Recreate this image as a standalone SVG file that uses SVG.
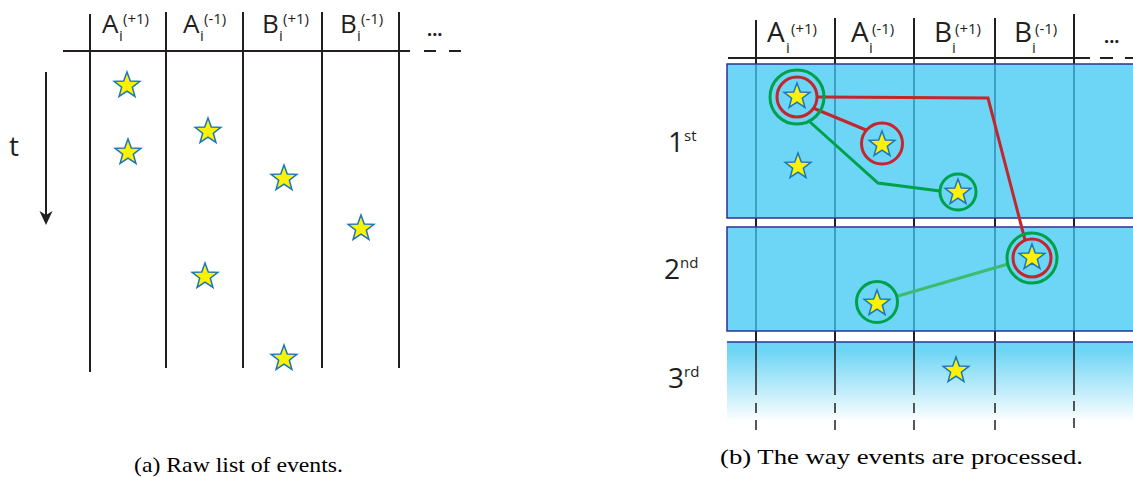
<svg xmlns="http://www.w3.org/2000/svg" width="1133" height="477" viewBox="0 0 1133 477">
<style>
.hd{font-family:"Open Sans","Liberation Sans",sans-serif;fill:#231f20}
.big{font-size:26px}
.sm{font-size:15px}
.cap{font-family:"Liberation Serif",serif;font-size:21px;fill:#000}
.blk{stroke:#231f20;stroke-width:2;fill:none}
.teal{stroke:#1f7c9c;stroke-width:1.2;fill:none}
.band{fill:#6dd5f5;stroke:#2e3192;stroke-width:1.5}
.red{stroke:#c1272d;stroke-width:3;fill:none}
.grn{stroke:#00a14b;stroke-width:3;fill:none}
.grn2{stroke:#3dbb6e;stroke-width:3;fill:none}
.st{fill:#fff200;stroke:#1b75bc;stroke-width:1.5}
</style>
<defs>
<path id="star" d="M0,-13.5 L3.29,-4.53 L12.84,-4.17 L5.33,1.73 L7.94,10.92 L0,5.6 L-7.94,10.92 L-5.33,1.73 L-12.84,-4.17 L-3.29,-4.53 Z"/>
<linearGradient id="fade" x1="0" y1="0" x2="0" y2="1">
<stop offset="0" stop-color="#6dd5f5"/>
<stop offset="0.1" stop-color="#6dd5f5"/>
<stop offset="1" stop-color="#ffffff"/>
</linearGradient>
<linearGradient id="fadeS" x1="0" y1="0" x2="0" y2="1">
<stop offset="0" stop-color="#2e3192"/>
<stop offset="1" stop-color="#2e3192" stop-opacity="0"/>
</linearGradient>
</defs>

<!-- LEFT PANEL -->
<g id="left-grid">
<line class="blk" x1="63" y1="51" x2="410" y2="51"/>
<line class="blk" x1="424" y1="51" x2="436" y2="51"/>
<line class="blk" x1="449" y1="51" x2="461" y2="51"/>
<line class="blk" x1="90" y1="14" x2="90" y2="372"/>
<line class="blk" x1="166" y1="12" x2="166" y2="368"/>
<line class="blk" x1="243" y1="12" x2="243" y2="368"/>
<line class="blk" x1="322" y1="12" x2="322" y2="368"/>
<line class="blk" x1="399" y1="12" x2="399" y2="368"/>
</g>
<g id="left-headers" class="hd">
<text class="big" x="102" y="33">A</text><text class="sm" x="119" y="41">i</text><text class="sm" x="123" y="24">(+1)</text>
<text class="big" x="183" y="33">A</text><text class="sm" x="200" y="41">i</text><text class="sm" x="204" y="24">(-1)</text>
<text class="big" x="262" y="33">B</text><text class="sm" x="279" y="41">i</text><text class="sm" x="283" y="24">(+1)</text>
<text class="big" x="340" y="33">B</text><text class="sm" x="357" y="41">i</text><text class="sm" x="361" y="24">(-1)</text>
<text x="427" y="36" style="font-size:18px;font-weight:bold">...</text>
</g>
<g id="time-axis">
<text class="hd" x="9" y="156" style="font-size:28px">t</text>
<line x1="46" y1="72" x2="46" y2="216" stroke="#231f20" stroke-width="2"/>
<polygon points="39.5,211 46,215 52.5,211 46,225" fill="#231f20"/>
</g>
<g id="left-stars" class="st">
<use href="#star" x="127" y="85.5"/>
<use href="#star" x="208" y="131.5"/>
<use href="#star" x="128" y="152.5"/>
<use href="#star" x="284" y="178.5"/>
<use href="#star" x="361" y="228.5"/>
<use href="#star" x="205" y="276.5"/>
<use href="#star" x="284" y="358.5"/>
</g>

<!-- RIGHT PANEL -->
<g id="right-grid">
<line class="blk" x1="728" y1="58" x2="1090" y2="58"/>
<line class="blk" x1="1100" y1="58" x2="1113" y2="58"/>
<line class="blk" x1="1125" y1="58" x2="1133" y2="58"/>
<g class="blk">
<line x1="756" y1="20" x2="756" y2="395"/>
<line x1="835" y1="18" x2="835" y2="395"/>
<line x1="914" y1="18" x2="914" y2="395"/>
<line x1="995" y1="18" x2="995" y2="395"/>
<line x1="1074" y1="14" x2="1074" y2="395"/>
</g>
</g>
<g id="band1">
<rect class="band" x="727" y="64" width="410" height="154"/>
</g>
<g id="band2">
<rect class="band" x="727" y="227" width="410" height="104"/>
</g>
<g id="band3">
<rect x="727" y="342" width="410" height="80" fill="url(#fade)"/>
<line x1="727" y1="342" x2="1133" y2="342" stroke="#2e3192" stroke-width="1.5"/>
<line x1="727" y1="342" x2="727" y2="400" stroke="url(#fadeS)" stroke-width="1.5"/>
<g stroke="#231f20" stroke-width="1.5">
<line x1="756" y1="343" x2="756" y2="395"/>
<line x1="835" y1="343" x2="835" y2="395"/>
<line x1="914" y1="343" x2="914" y2="395"/>
<line x1="995" y1="343" x2="995" y2="395"/>
<line x1="1074" y1="343" x2="1074" y2="395"/>
</g>
<g stroke="#231f20" stroke-width="1.5" stroke-dasharray="10 7">
<line x1="756" y1="403" x2="756" y2="430"/>
<line x1="835" y1="403" x2="835" y2="430"/>
<line x1="914" y1="403" x2="914" y2="430"/>
<line x1="995" y1="403" x2="995" y2="430"/>
<line x1="1074" y1="401" x2="1074" y2="430"/>
</g>
</g>
<g id="band-lines" class="teal">
<line x1="756" y1="65" x2="756" y2="217"/><line x1="835" y1="65" x2="835" y2="217"/><line x1="914" y1="65" x2="914" y2="217"/><line x1="995" y1="65" x2="995" y2="217"/><line x1="1074" y1="65" x2="1074" y2="217"/>
<line x1="756" y1="228" x2="756" y2="330"/><line x1="835" y1="228" x2="835" y2="330"/><line x1="914" y1="228" x2="914" y2="330"/><line x1="995" y1="228" x2="995" y2="330"/><line x1="1074" y1="228" x2="1074" y2="330"/>
</g>
<g id="right-headers" class="hd">
<text x="767" y="42" style="font-size:28px">A</text><text class="sm" x="786" y="53">i</text><text class="sm" x="791" y="34">(+1)</text>
<text x="851" y="42" style="font-size:28px">A</text><text class="sm" x="869" y="53">i</text><text class="sm" x="872" y="34">(-1)</text>
<text x="934" y="42" style="font-size:28px">B</text><text class="sm" x="952" y="53">i</text><text class="sm" x="955" y="34">(+1)</text>
<text x="1014" y="42" style="font-size:28px">B</text><text class="sm" x="1032" y="53">i</text><text class="sm" x="1035" y="34">(-1)</text>
<text x="1104" y="43" style="font-size:18px;font-weight:bold">...</text>
</g>
<g id="row-labels" class="hd">
<text x="668" y="152" style="font-size:28px">1<tspan dy="-11" style="font-size:15px">st</tspan></text>
<text x="664" y="279" style="font-size:28px">2<tspan dy="-11" style="font-size:15px">nd</tspan></text>
<text x="668" y="388" style="font-size:28px">3<tspan dy="-11" style="font-size:15px">rd</tspan></text>
</g>
<g id="connectors">
<polyline class="red" points="817,97 988,98 1025,240"/>
<line class="red" x1="813" y1="108" x2="866" y2="130"/>
<polyline class="grn" points="810,122 878,183 940,191"/>
<line class="grn2" x1="898" y1="296" x2="1008" y2="264"/>
</g>
<g id="nodeA"><circle class="grn" cx="797" cy="97" r="27"/><circle class="red" cx="797" cy="97" r="20"/><use class="st" href="#star" x="797" y="96.5"/></g>
<g id="nodeB"><circle class="red" cx="882" cy="143.5" r="20.5"/><use class="st" href="#star" x="882" y="144.5"/></g>
<g id="nodeC"><use class="st" href="#star" x="798" y="166.5"/></g>
<g id="nodeD"><circle class="grn" cx="958" cy="192" r="18"/><use class="st" href="#star" x="958" y="192.5"/></g>
<g id="nodeE"><circle class="grn" cx="1032" cy="258" r="25"/><circle class="red" cx="1032" cy="258" r="19"/><use class="st" href="#star" x="1032" y="257.5"/></g>
<g id="nodeF"><circle class="grn" cx="877" cy="302" r="20.5"/><use class="st" href="#star" x="877" y="303.5"/></g>
<g id="nodeG"><use class="st" href="#star" x="956" y="370.5"/></g>

<g id="captions">
<text class="cap" x="134" y="472" textLength="209" lengthAdjust="spacingAndGlyphs">(a) Raw list of events.</text>
<text class="cap" x="720" y="464" textLength="363" lengthAdjust="spacingAndGlyphs">(b) The way events are processed.</text>
</g>
</svg>
